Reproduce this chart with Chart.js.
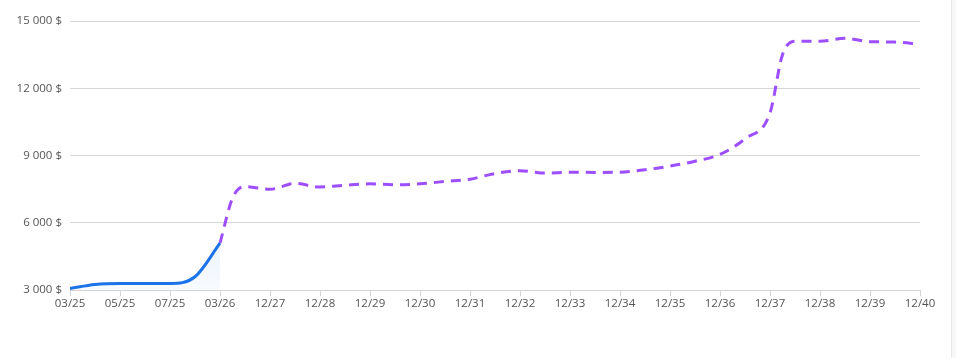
<!DOCTYPE html>
<html>
<head>
<meta charset="utf-8">
<script src="https://cdn.jsdelivr.net/npm/chart.js@4"></script>
<style>
  html, body { margin: 0; padding: 0; background: #ffffff; }
  #wrap { position: relative; width: 956px; height: 358px; }
  #strip { position: absolute; left: 951px; top: 0; width: 5px; height: 358px; background: #f7f7f7; border-left: 1px solid #e8e8e8; box-sizing: border-box; }
</style>
</head>
<body>
<div id="wrap">
  <canvas id="c"></canvas>
  <div id="strip"></div>
</div>
<script>
// X tick labels (evenly spaced categories along the axis)
const xTickLabels = ['03/25','05/25','07/25','03/26','12/27','12/28','12/29','12/30','12/31','12/32','12/33','12/34','12/35','12/36','12/37','12/38','12/39','12/40'];

// Actual (historical) series: positions in tick units and values
const actualX = [0, 0.5, 1, 1.5, 2, 2.5, 3];
const actualValues = [3080, 3255, 3300, 3300, 3300, 3600, 5100];

// Forecast series
const forecastX = [3, 3.25, 3.5, 4, 4.5, 5, 5.5, 6, 6.5, 7, 7.5, 8, 8.5, 9, 9.5, 10, 10.5, 11, 11.5, 12, 12.5, 13, 13.5, 14, 14.25, 14.5, 15, 15.5, 16, 16.5, 17];
const forecastValues = [5100, 7100, 7620, 7500, 7760, 7600, 7680, 7740, 7700, 7740, 7850, 7950, 8200, 8330, 8220, 8260, 8250, 8260, 8370, 8530, 8750, 9050, 9750, 10900, 13500, 14100, 14100, 14230, 14080, 14060, 13960];

// Y axis ticks
const yTicks = [3000, 6000, 9000, 12000, 15000];

const toPoints = (xs, ys) => xs.map((x, i) => ({ x: x, y: ys[i] }));
const fmt = v => String(Math.round(v)).replace(/\B(?=(\d{3})+(?!\d))/g, ' ') + ' $';

const ctx = document.getElementById('c');
new Chart(ctx, {
  type: 'line',
  data: {
    datasets: [
      {
        label: 'Actual',
        data: toPoints(actualX, actualValues),
        borderColor: '#1a73e8',
        borderWidth: 3,
        pointRadius: 0,
        cubicInterpolationMode: 'monotone',
        fill: 'start',
        backgroundColor: (c) => {
          const area = c.chart.chartArea;
          if (!area) return 'rgba(26,115,232,0.06)';
          const g = c.chart.ctx.createLinearGradient(0, area.top + area.height * 0.75, 0, area.bottom);
          g.addColorStop(0, 'rgba(26,115,232,0.10)');
          g.addColorStop(1, 'rgba(26,115,232,0.03)');
          return g;
        }
      },
      {
        label: 'Forecast',
        data: toPoints(forecastX, forecastValues),
        borderColor: '#9d4eff',
        borderWidth: 3,
        borderDash: [10, 7],
        pointRadius: 0,
        cubicInterpolationMode: 'monotone',
        fill: false
      }
    ]
  },
  options: {
    responsive: true,
    maintainAspectRatio: false,
    animation: false,
    layout: { padding: { left: 0, right: 36, top: 21, bottom: 46 } },
    plugins: { legend: { display: false }, tooltip: { enabled: false } },
    scales: {
      x: {
        type: 'linear',
        min: 0,
        max: xTickLabels.length - 1,
        afterBuildTicks: (s) => { s.ticks = xTickLabels.map((_, i) => ({ value: i })); },
        ticks: {
          autoSkip: false,
          maxRotation: 0,
          padding: 1,
          color: '#555555',
          font: { family: 'Open Sans', size: 11.5 },
          callback: (v) => xTickLabels[v] ?? ''
        },
        grid: { drawOnChartArea: false, drawTicks: true, tickLength: 6, color: '#d6d6d6' },
        border: { display: true, color: '#d6d6d6' }
      },
      y: {
        min: yTicks[0],
        max: yTicks[yTicks.length - 1],
        afterBuildTicks: (s) => { s.ticks = yTicks.map(v => ({ value: v })); },
        afterFit: (s) => { s.width = 70; },
        ticks: {
          padding: 8,
          color: '#555555',
          font: { family: 'Open Sans', size: 11.5 },
          callback: (v) => fmt(v)
        },
        grid: { color: '#d6d6d6', drawTicks: false },
        border: { display: false }
      }
    }
  }
});
</script>
</body>
</html>
